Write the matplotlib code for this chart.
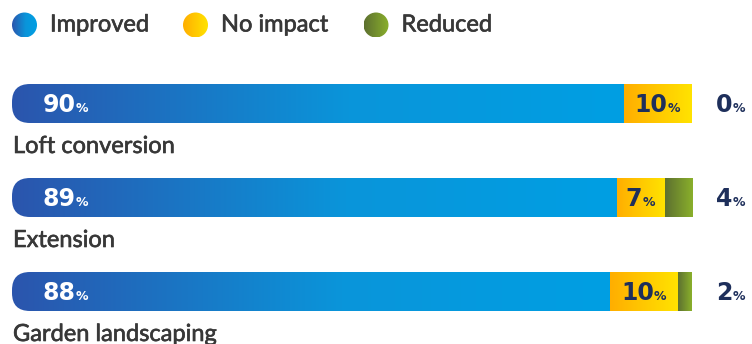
import numpy as np
import matplotlib.pyplot as plt
import matplotlib.patheffects as pe
from matplotlib.colors import LinearSegmentedColormap
from matplotlib.patches import FancyBboxPatch, Circle, Rectangle

categories = ["Loft conversion", "Extension", "Garden landscaping"]
improved = [90, 89, 88]
no_impact = [10, 7, 10]
reduced = [0, 4, 2]
legend_labels = ["Improved", "No impact", "Reduced"]

plt.rcParams['font.family'] = ['Lato', 'DejaVu Sans']
num_font = ['DejaVu Sans']

blue_cmap = LinearSegmentedColormap.from_list(
    "blue", [(0, "#2b55ad"), (0.55, "#0a95da"), (1, "#009fe3")])
yellow_cmap = LinearSegmentedColormap.from_list("yellow", ["#ffae00", "#ffe300"])
green_cmap = LinearSegmentedColormap.from_list("green", ["#5d7030", "#8ab02b"])
navy = "#1e2f5b"
label_gray = "#383838"
# thicken the regular weight a little
bold_fx = [pe.withStroke(linewidth=0.45, foreground=label_gray)]

W, H = 752, 344
fig = plt.figure(figsize=(W / 100, H / 100), dpi=100)

# bar axes: x in percent, y in row index (0 at top)
left_px, right_px = 12, 692
row0_px, row_step_px = 103.5, 94
ax = fig.add_axes([left_px / W, 0, (right_px - left_px) / W, 1])
ax.set_xlim(0, 100)
ax.set_ylim((H - row0_px) / row_step_px, -row0_px / row_step_px)
ax.axis('off')

bar_h = 39 / row_step_px
px_per_x = (right_px - left_px) / 100
radius = 18 / px_per_x
aspect = px_per_x / row_step_px

grad = np.linspace(0, 1, 256).reshape(1, -1)


def gradient_bar(x0, x1, y, cmap, clip=None):
    if x1 <= x0:
        return
    im = ax.imshow(grad, cmap=cmap, aspect='auto', interpolation='bilinear',
                   extent=[x0, x1, y + bar_h / 2, y - bar_h / 2], zorder=2)
    if clip is None:
        clip = Rectangle((x0, y - bar_h / 2), x1 - x0, bar_h,
                         transform=ax.transData, visible=False)
        ax.add_patch(clip)
    im.set_clip_path(clip)


def pct_label(xy, offset, value, color, ha):
    t = ax.annotate(f"{value}", xy=xy, xytext=offset, textcoords='offset pixels',
                    ha=ha, va='center', fontsize=17, fontweight='bold',
                    family=num_font, color=color, zorder=3, annotation_clip=False)
    ax.annotate("%", xy=(1, 0.2), xycoords=t, xytext=(0, 0),
                textcoords='offset pixels', ha='left', va='baseline',
                fontsize=9, fontweight='bold', family=num_font, color=color,
                zorder=3, annotation_clip=False)
    return t


for i, cat in enumerate(categories):
    a, b, c = improved[i], no_impact[i], reduced[i]
    # blue part, rounded on the left only
    clip = FancyBboxPatch((0, i - bar_h / 2), a + 2 * radius, bar_h,
                          boxstyle=f"round,pad=0,rounding_size={radius}",
                          mutation_aspect=aspect, transform=ax.transData,
                          visible=False)
    ax.add_patch(clip)
    gradient_bar(0, a, i, blue_cmap, clip)
    gradient_bar(a, a + b, i, yellow_cmap)
    gradient_bar(a + b, a + b + c, i, green_cmap)

    pct_label((0, i), (31, -1), a, 'white', 'left')
    pct_label((a + b / 2, i), (-7, -1), b, navy, 'center')
    pct_label((100, i), (24, -1), c, navy, 'left')

    ax.annotate(cat, xy=(0, i + bar_h / 2), xytext=(1, -13),
                textcoords='offset pixels', ha='left', va='top',
                fontsize=17, color=label_gray, path_effects=bold_fx,
                annotation_clip=False)

# legend in pixel coordinates
lax = fig.add_axes([0, 0, 1, 1])
lax.set_xlim(0, W)
lax.set_ylim(H, 0)
lax.axis('off')
legend_x = [24.5, 195.5, 376]
legend_y = 25
r = 12.5
for x, lab, cmap in zip(legend_x, legend_labels, [blue_cmap, yellow_cmap, green_cmap]):
    circ = Circle((x, legend_y), r, visible=False)
    lax.add_patch(circ)
    im = lax.imshow(grad, cmap=cmap, aspect='auto', interpolation='bilinear',
                    extent=[x - r, x + r, legend_y + r, legend_y - r])
    im.set_clip_path(circ)
    lax.text(x + r + 13, legend_y, lab, ha='left', va='center',
             fontsize=17, color=label_gray, path_effects=bold_fx)
lax.set_xlim(0, W)
lax.set_ylim(H, 0)

fig.savefig("out.png", dpi=100)
